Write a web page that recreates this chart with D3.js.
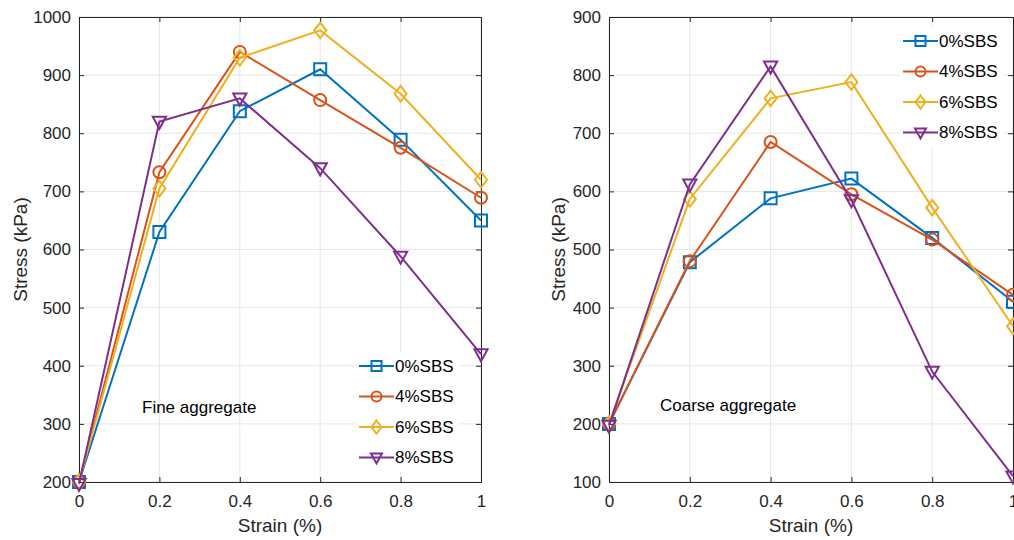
<!DOCTYPE html>
<html>
<head>
<meta charset="utf-8">
<script src="https://cdn.jsdelivr.net/npm/d3@7"></script>
<style>
  body { margin: 0; background: #fff; }
  svg { display: block; font-family: "Liberation Sans", Arial, sans-serif; }
</style>
</head>
<body>
<div id="chart"></div>
<script>
// strain values (%)
const strain = [0, 0.2, 0.4, 0.6, 0.8, 1];
const seriesNames = ["0%SBS", "4%SBS", "6%SBS", "8%SBS"];

// fine aggregate stress (kPa)
const fine0 = [200, 630, 838, 910, 789, 650];
const fine4 = [200, 733, 940, 857, 775, 689];
const fine6 = [200, 705, 930, 977, 868, 720];
const fine8 = [197, 820, 860, 740, 588, 420];

// coarse aggregate stress (kPa)
const coarse0 = [200, 478, 588, 622, 520, 410];
const coarse4 = [200, 480, 685, 595, 517, 422];
const coarse6 = [200, 587, 760, 788, 572, 368];
const coarse8 = [197, 612, 815, 585, 290, 110];

const xTicks = [0, 0.2, 0.4, 0.6, 0.8, 1];
const fineYTicks = [200, 300, 400, 500, 600, 700, 800, 900, 1000];
const coarseYTicks = [100, 200, 300, 400, 500, 600, 700, 800, 900];

const colors = ["#0072BD", "#D95319", "#EDB120", "#7E2F8E"];
const markers = ["square", "circle", "diamond", "tridown"];

const svg = d3.select("#chart")
  .append("svg")
    .attr("width", 1014)
    .attr("height", 540);

// marker path centred at 0,0
const markerPath = (type, s) => {
  const h = s / 2;
  if (type === "square") return `M${-h},${-h}H${h}V${h}H${-h}Z`;
  if (type === "circle") return `M${h},0A${h},${h} 0 1,1 ${-h},0A${h},${h} 0 1,1 ${h},0Z`;
  if (type === "diamond") return `M0,${-h * 1.3}L${h},0L0,${h * 1.3}L${-h},0Z`;
  return `M${-h * 1.1},${-h * 0.8}H${h * 1.1}L0,${h * 1.2}Z`;
};

const drawPanel = (opts) => {
  const { left, right, top, bottom, yDomain, yTicks, data, label, labelPos, legendPos, yLabelX } = opts;

  const x = d3.scaleLinear().domain([0, 1]).range([left, right]);
  const y = d3.scaleLinear().domain(yDomain).range([bottom, top]);

  const g = svg.append("g");

  // grid
  g.append("g")
    .selectAll("line")
    .data(xTicks)
    .join("line")
      .attr("x1", d => x(d)).attr("x2", d => x(d))
      .attr("y1", top).attr("y2", bottom)
      .attr("stroke", "#e6e6e6").attr("stroke-width", 1);
  g.append("g")
    .selectAll("line")
    .data(yTicks)
    .join("line")
      .attr("x1", left).attr("x2", right)
      .attr("y1", d => y(d)).attr("y2", d => y(d))
      .attr("stroke", "#e6e6e6").attr("stroke-width", 1);

  // axes, ticks inside (MATLAB style)
  const xAxis = g.append("g")
    .attr("transform", `translate(0,${bottom})`)
    .call(d3.axisBottom(x).tickValues(xTicks).tickSize(-5).tickPadding(13).tickFormat(d3.format("~g")));
  const yAxis = g.append("g")
    .attr("transform", `translate(${left},0)`)
    .call(d3.axisLeft(y).tickValues(yTicks).tickSize(-5).tickPadding(8).tickFormat(d3.format("d")));
  const xTop = g.append("g")
    .attr("transform", `translate(0,${top})`)
    .call(d3.axisTop(x).tickValues(xTicks).tickSize(-5).tickFormat(""));
  const yRight = g.append("g")
    .attr("transform", `translate(${right},0)`)
    .call(d3.axisRight(y).tickValues(yTicks).tickSize(-5).tickFormat(""));

  [xAxis, yAxis, xTop, yRight].forEach(a => {
    a.select(".domain").attr("stroke", "#262626").attr("stroke-width", 1);
    a.selectAll(".tick line").attr("stroke", "#262626");
    a.selectAll("text")
      .attr("fill", "#262626")
      .style("font-size", "17px")
      .style("font-family", "Liberation Sans, Arial, sans-serif");
  });

  // axis titles
  g.append("text")
    .text("Strain (%)")
    .attr("x", (left + right) / 2)
    .attr("y", bottom + 50)
    .attr("text-anchor", "middle")
    .attr("fill", "#262626")
    .style("font-size", "19px");
  g.append("text")
    .text("Stress (kPa)")
    .attr("transform", `translate(${yLabelX},${(top + bottom) / 2}) rotate(-90)`)
    .attr("text-anchor", "middle")
    .attr("fill", "#262626")
    .style("font-size", "19px");

  // lines and markers
  const line = d3.line().x((d, i) => x(strain[i])).y(d => y(d));
  data.forEach((vals, k) => {
    g.append("path")
      .datum(vals)
      .attr("d", line)
      .attr("fill", "none")
      .attr("stroke", colors[k])
      .attr("stroke-width", 2);
    g.selectAll(`path.m${k}`)
      .data(vals)
      .join("path")
        .attr("class", `m${k}`)
        .attr("transform", (d, i) => `translate(${x(strain[i])},${y(d)})`)
        .attr("d", markerPath(markers[k], 12))
        .attr("fill", "none")
        .attr("stroke", colors[k])
        .attr("stroke-width", 2);
  });

  // annotation
  g.append("text")
    .text(label)
    .attr("x", labelPos[0])
    .attr("y", labelPos[1])
    .attr("fill", "#000")
    .style("font-size", "17px");

  // legend
  const lg = g.append("g").attr("transform", `translate(${legendPos[0]},${legendPos[1]})`);
  lg.append("rect")
    .attr("x", -4).attr("y", -14)
    .attr("width", 104).attr("height", 120)
    .attr("fill", "#fff");
  seriesNames.forEach((name, k) => {
    const row = lg.append("g").attr("transform", `translate(0,${k * 30.5})`);
    row.append("line")
      .attr("x1", 0).attr("x2", 35)
      .attr("stroke", colors[k]).attr("stroke-width", 2);
    row.append("path")
      .attr("transform", "translate(17.5,0)")
      .attr("d", markerPath(markers[k], 10))
      .attr("fill", "none")
      .attr("stroke", colors[k])
      .attr("stroke-width", 2);
    row.append("text")
      .text(name)
      .attr("x", 36)
      .attr("y", 0)
      .attr("dominant-baseline", "central")
      .attr("fill", "#000")
      .style("font-size", "17px");
  });
};

drawPanel({
  left: 79, right: 481, top: 17, bottom: 482,
  yDomain: [200, 1000], yTicks: fineYTicks,
  data: [fine0, fine4, fine6, fine8],
  label: "Fine aggregate", labelPos: [142, 413],
  legendPos: [359, 366], yLabelX: 27
});

drawPanel({
  left: 609, right: 1013, top: 17, bottom: 482,
  yDomain: [100, 900], yTicks: coarseYTicks,
  data: [coarse0, coarse4, coarse6, coarse8],
  label: "Coarse aggregate", labelPos: [660, 411],
  legendPos: [903, 41], yLabelX: 565
});
</script>
</body>
</html>
